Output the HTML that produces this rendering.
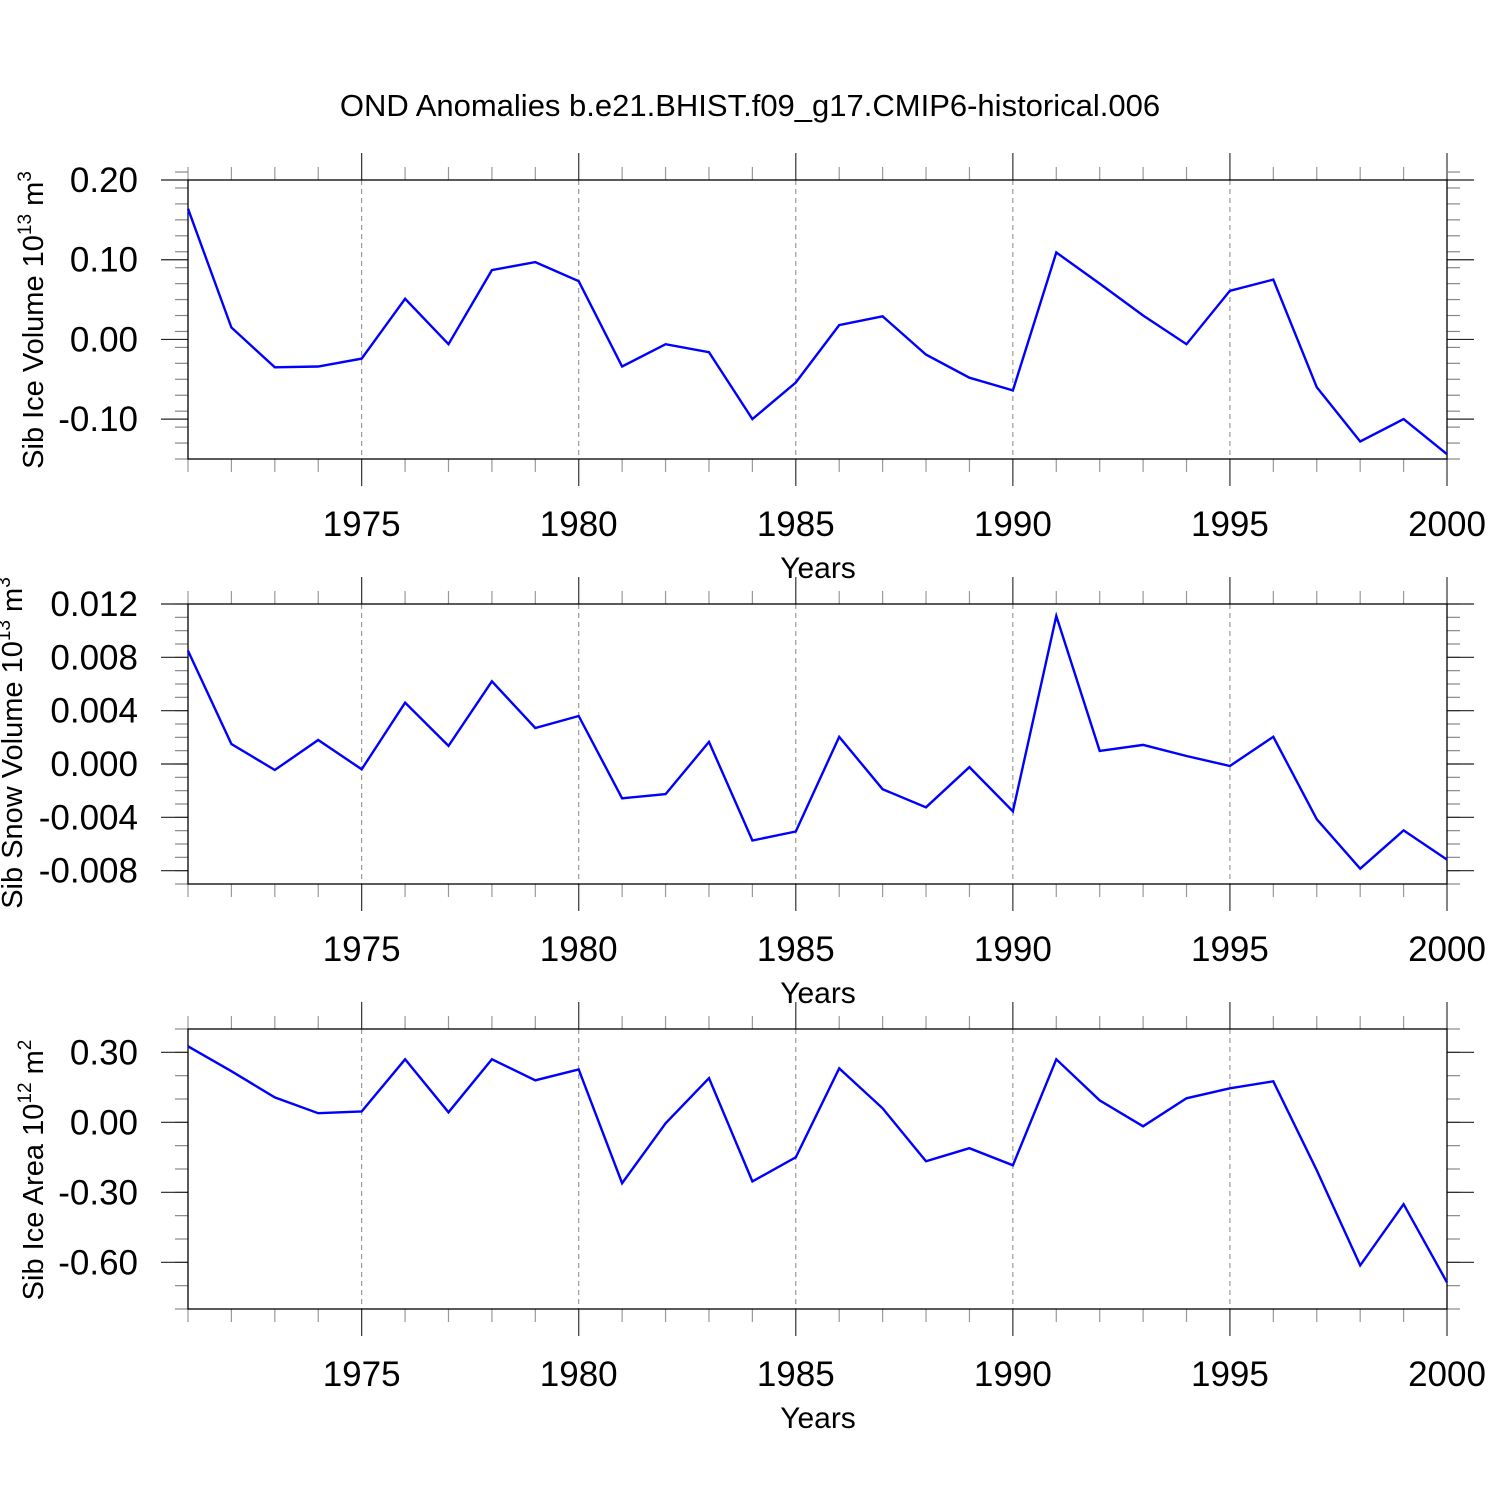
<!DOCTYPE html>
<html><head><meta charset="utf-8">
<style>
html,body{margin:0;padding:0;background:#fff;}
svg{display:block;font-family:"Liberation Sans",sans-serif;}
</style></head>
<body>
<svg id="chart" width="1500" height="1500" viewBox="0 0 1500 1500" xmlns="http://www.w3.org/2000/svg">
<rect x="0" y="0" width="1500" height="1500" fill="#fff"/>
<text x="750" y="116" font-size="31" text-anchor="middle" fill="#000">OND Anomalies b.e21.BHIST.f09_g17.CMIP6-historical.006</text>
</svg>
<script>
const years = [1971,1972,1973,1974,1975,1976,1977,1978,1979,1980,1981,1982,1983,1984,1985,1986,1987,1988,1989,1990,1991,1992,1993,1994,1995,1996,1997,1998,1999,2000];
const iceVolume = [0.164,0.015,-0.035,-0.034,-0.024,0.051,-0.006,0.087,0.097,0.073,-0.034,-0.006,-0.016,-0.100,-0.054,0.018,0.029,-0.019,-0.048,-0.064,0.109,0.070,0.030,-0.006,0.061,0.075,-0.060,-0.128,-0.100,-0.144];
const snowVolume = [0.0085,0.0015,-0.00045,0.0018,-0.0004,0.0046,0.00136,0.0062,0.0027,0.0036,-0.00257,-0.00226,0.00166,-0.00574,-0.00506,0.00204,-0.00189,-0.00325,-0.00023,-0.00355,0.0111,0.00098,0.00143,0.0006,-0.00015,0.00204,-0.00415,-0.00785,-0.00498,-0.00717];
const iceArea = [0.326,0.219,0.107,0.039,0.047,0.270,0.043,0.270,0.180,0.227,-0.261,-0.004,0.189,-0.253,-0.150,0.231,0.060,-0.167,-0.111,-0.184,0.270,0.094,-0.017,0.103,0.146,0.176,-0.206,-0.613,-0.351,-0.686];
const xMajorTicks = [1975,1980,1985,1990,1995,2000];
const iceVolumeTicks = [0.2,0.1,0.0,-0.1];
const iceVolumeTickLabels = ["0.20","0.10","0.00","-0.10"];
const snowVolumeTicks = [0.012,0.008,0.004,0.0,-0.004,-0.008];
const snowVolumeTickLabels = ["0.012","0.008","0.004","0.000","-0.004","-0.008"];
const iceAreaTicks = [0.3,0.0,-0.3,-0.6];
const iceAreaTickLabels = ["0.30","0.00","-0.30","-0.60"];

const NS = "http://www.w3.org/2000/svg";
const svg = document.getElementById('chart');
const X0 = 188, X1 = 1447, YR0 = 1971, YR1 = 2000;
function xScale(yr){ return X0 + (yr - YR0) * (X1 - X0) / (YR1 - YR0); }
function mk(tag, attrs, parent){
  const e = document.createElementNS(NS, tag);
  for (const k in attrs) e.setAttribute(k, attrs[k]);
  (parent || svg).appendChild(e);
  return e;
}

function panel(cfg){
  const g = mk('g', {});
  
  
  const yS = v => cfg.top + (cfg.vmax - v) * (cfg.bot - cfg.top) / (cfg.vmax - cfg.vmin);
  xMajorTicks.forEach(yr => {
    if (yr === YR1) return;
    const l = mk('line', {x1:xScale(yr), x2:xScale(yr), y1:cfg.top, y2:cfg.bot, stroke:'#888', 'stroke-width':1, 'stroke-dasharray':'5,4'}, g);
    
    
  });
  for (let yr = YR0; yr <= YR1; yr++) {
    const major = xMajorTicks.includes(yr);
    const len = major ? 27 : 13;
    const x = xScale(yr);
    mk('line', {x1:x, x2:x, y1:cfg.top - len, y2:cfg.top, stroke: major ? '#333' : '#999', 'stroke-width':1.2}, g);
    mk('line', {x1:x, x2:x, y1:cfg.bot, y2:cfg.bot + len, stroke: major ? '#333' : '#999', 'stroke-width':1.2}, g);
  }
  const n = Math.round((cfg.vmax - cfg.vmin) / cfg.minor);
  for (let i = 0; i <= n; i++) {
    const v = cfg.vmin + i * cfg.minor;
    const y = yS(v);
    mk('line', {x1:X0 - 13, x2:X0, y1:y, y2:y, stroke:'#888', 'stroke-width':1.2}, g);
    mk('line', {x1:X1, x2:X1 + 13, y1:y, y2:y, stroke:'#888', 'stroke-width':1.2}, g);
  }
  cfg.ticks.forEach((v, i) => {
    const y = yS(v);
    mk('line', {x1:X0 - 27, x2:X0, y1:y, y2:y, stroke:'#222', 'stroke-width':1.2}, g);
    mk('line', {x1:X1, x2:X1 + 27, y1:y, y2:y, stroke:'#222', 'stroke-width':1.2}, g);
    const t = mk('text', {x:138, y:y + 12, 'font-size':35, 'text-anchor':'end', fill:'#000'}, g);
    
    
    t.textContent = cfg.labels[i];
  });
  const f = mk('rect', {x:X0, y:cfg.top, width:X1 - X0, height:cfg.bot - cfg.top, fill:'none', stroke:'#000', 'stroke-width':1.3}, g);
  
  
  xMajorTicks.forEach(yr => {
    const t = mk('text', {x:xScale(yr), y:cfg.bot + 77, 'font-size':35, 'text-anchor':'middle', fill:'#000'}, g);
    
    
    t.textContent = String(yr);
  });
  const xt = mk('text', {x:818, y:cfg.bot + 119, 'font-size':30, 'text-anchor':'middle', fill:'#000'}, g);
  
  
  xt.textContent = 'Years';
  const yt = mk('text', {x:0, y:0, 'font-size':29, 'text-anchor':'middle', fill:'#000', transform:'translate(' + cfg.titleX + ',' + cfg.titleY + ') rotate(-90)'}, g);
  
  
  const s1 = mk('tspan', {}, yt); s1.textContent = cfg.title + ' 10';
  const s2 = mk('tspan', {dy:-12, 'font-size':19}, yt); s2.textContent = cfg.exp;
  const s3 = mk('tspan', {dy:12}, yt); s3.textContent = ' m';
  const s4 = mk('tspan', {dy:-12, 'font-size':19}, yt); s4.textContent = cfg.unitExp;
  const pts = years.map((yr, i) => xScale(yr).toFixed(1) + ',' + yS(cfg.data[i]).toFixed(1)).join(' ');
  const pl = mk('polyline', {points:pts, fill:'none', stroke:'#0000ff', 'stroke-width':2.4, 'stroke-linejoin':'miter'}, g);
  
  
}

panel({name:'ice-volume-panel', top:180, bot:459, vmin:-0.15, vmax:0.2, minor:0.02, ticks:iceVolumeTicks, labels:iceVolumeTickLabels, data:iceVolume, title:'Sib Ice Volume', exp:'13', unitExp:'3', titleX:43, titleY:320});
panel({name:'snow-volume-panel', top:604, bot:884, vmin:-0.009, vmax:0.012, minor:0.001, ticks:snowVolumeTicks, labels:snowVolumeTickLabels, data:snowVolume, title:'Sib Snow Volume', exp:'13', unitExp:'3', titleX:22, titleY:743});
panel({name:'ice-area-panel', top:1029, bot:1309, vmin:-0.8, vmax:0.4, minor:0.1, ticks:iceAreaTicks, labels:iceAreaTickLabels, data:iceArea, title:'Sib Ice Area', exp:'12', unitExp:'2', titleX:43, titleY:1170});
</script>
</body></html>
